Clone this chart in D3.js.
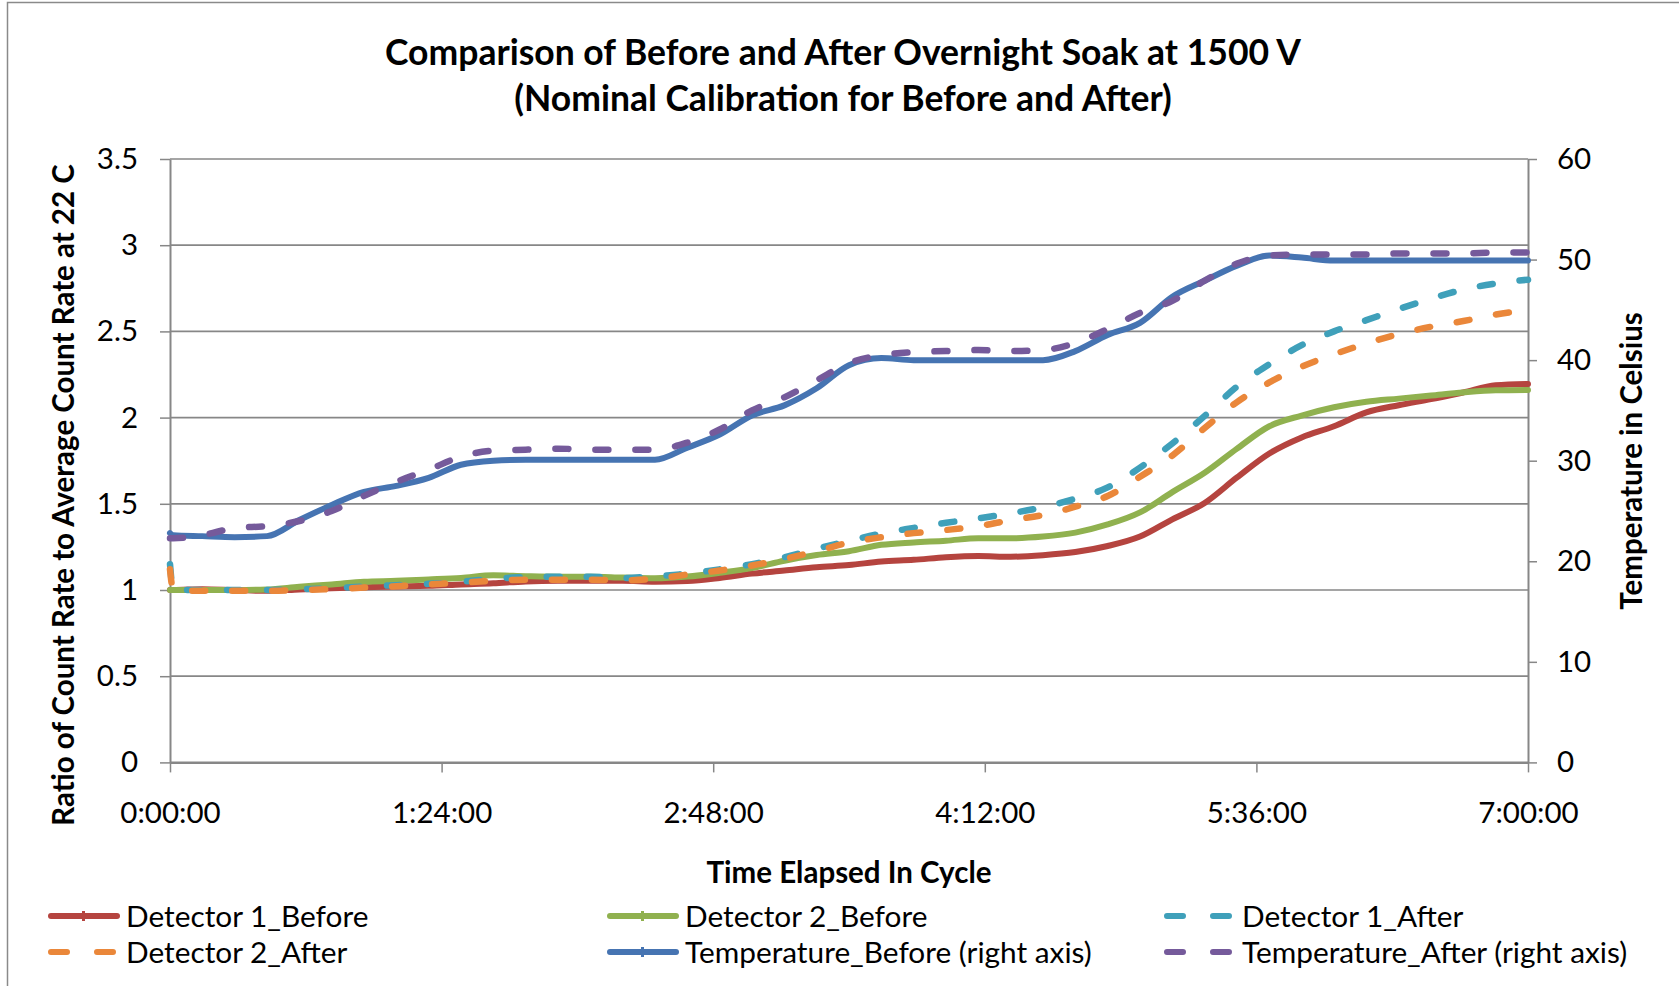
<!DOCTYPE html>
<html>
<head>
<meta charset="utf-8">
<script src="https://cdn.jsdelivr.net/npm/d3@7"></script>
<style>
  html, body { margin: 0; padding: 0; background: #fff; }
  svg { display: block; font-family: Lato, "Open Sans", sans-serif; }
</style>
</head>
<body>
<svg id="chart" width="1679" height="986"></svg>
<script>
// time in minutes since start of cycle
const minutes = [0, 1, 10, 20, 30, 40, 50, 60, 70, 80, 90, 100, 110, 120, 130, 140, 150,
  160, 170, 180, 190, 200, 210, 220, 230, 240, 250, 260, 270, 280, 290, 300, 310, 320,
  330, 340, 350, 360, 370, 380, 390, 400, 410, 420];

const detector1Before = [1.00, 1.00, 1.005, 1.00, 0.995, 1.003, 1.01, 1.016, 1.02, 1.024,
  1.032, 1.039, 1.05, 1.053, 1.053, 1.053, 1.048, 1.052, 1.07, 1.095, 1.113, 1.132, 1.145,
  1.165, 1.175, 1.19, 1.197, 1.193, 1.202, 1.22, 1.255, 1.31, 1.41, 1.505, 1.653, 1.792,
  1.885, 1.95, 2.03, 2.072, 2.107, 2.146, 2.187, 2.195];

const detector2Before = [1.00, 1.00, 1.00, 1.00, 1.003, 1.019, 1.032, 1.048, 1.053, 1.061,
  1.07, 1.085, 1.08, 1.077, 1.077, 1.072, 1.068, 1.078, 1.10, 1.127, 1.17, 1.203, 1.225,
  1.262, 1.276, 1.286, 1.30, 1.30, 1.31, 1.333, 1.38, 1.45, 1.568, 1.68, 1.82, 1.95, 2.012,
  2.06, 2.092, 2.11, 2.128, 2.146, 2.158, 2.16];

const detector1After = [1.15, 1.00, 1.00, 1.00, 1.00, 1.005, 1.01, 1.02, 1.028, 1.036,
  1.048, 1.065, 1.075, 1.077, 1.077, 1.07, 1.08, 1.095, 1.12, 1.15, 1.19, 1.24, 1.285,
  1.328, 1.36, 1.39, 1.415, 1.445, 1.48, 1.53, 1.595, 1.71, 1.85, 2.01, 2.18, 2.31, 2.42,
  2.50, 2.565, 2.63, 2.69, 2.743, 2.778, 2.80];

const detector2After = [1.12, 1.00, 0.995, 0.995, 0.995, 1.00, 1.005, 1.014, 1.022, 1.032,
  1.043, 1.053, 1.06, 1.06, 1.06, 1.056, 1.065, 1.09, 1.113, 1.142, 1.18, 1.225, 1.275,
  1.306, 1.33, 1.348, 1.37, 1.405, 1.435, 1.483, 1.545, 1.657, 1.78, 1.94, 2.09, 2.204,
  2.295, 2.367, 2.43, 2.484, 2.527, 2.56, 2.598, 2.624];

// degrees Celsius, right axis
const temperatureBefore = [22.8, 22.6, 22.5, 22.4, 22.5, 24.1, 25.6, 26.9, 27.5, 28.3,
  29.6, 30.0, 30.1, 30.1, 30.1, 30.1, 30.1, 31.3, 32.6, 34.5, 35.5, 37.2, 39.5, 40.2,
  40.0, 40.0, 40.0, 40.0, 40.0, 40.9, 42.5, 43.7, 46.3, 47.9, 49.4, 50.4, 50.2, 49.9,
  49.9, 49.9, 49.9, 49.9, 49.9, 49.9];

const temperatureAfter = [22.3, 22.3, 22.6, 23.3, 23.5, 24.0, 25.0, 26.5, 27.9, 29.1,
  30.4, 31.0, 31.1, 31.2, 31.1, 31.1, 31.1, 31.8, 33.1, 35.0, 36.3, 38.0, 39.7, 40.5,
  40.8, 40.9, 41.0, 40.9, 41.0, 41.7, 43.1, 44.7, 45.9, 47.9, 49.6, 50.4, 50.5, 50.5,
  50.5, 50.6, 50.6, 50.6, 50.7, 50.7];

const timeTicks = [0, 84, 168, 252, 336, 420];
const ratioTicks = [0, 0.5, 1, 1.5, 2, 2.5, 3, 3.5];
const tempTicks = [0, 10, 20, 30, 40, 50, 60];

const titleLines = ['Comparison of Before and After Overnight Soak at 1500 V',
  '(Nominal Calibration for Before and After)'];

const series = [
  { name: 'Detector 1_Before', values: detector1Before, axis: 'left', color: '#b5443f', dashed: false },
  { name: 'Detector 2_Before', values: detector2Before, axis: 'left', color: '#90b14f', dashed: false },
  { name: 'Detector 1_After', values: detector1After, axis: 'left', color: '#3fa0ba', dashed: true },
  { name: 'Detector 2_After', values: detector2After, axis: 'left', color: '#ea873a', dashed: true },
  { name: 'Temperature_Before (right axis)', values: temperatureBefore, axis: 'right', color: '#4674b2', dashed: false },
  { name: 'Temperature_After (right axis)', values: temperatureAfter, axis: 'right', color: '#755a9b', dashed: true },
];

const svg = d3.select('#chart');
const plot = { left: 170, right: 1528, top: 159, bottom: 762.4 };
const gridColor = '#878787';

svg.append('rect')
  .attr('width', 1679).attr('height', 986).attr('fill', '#fff');

// outer chart border (runs off the right and bottom edge)
svg.append('rect')
  .attr('x', 7.5).attr('y', 2.5).attr('width', 1700).attr('height', 1000)
  .attr('fill', 'none').attr('stroke', '#8a8a8a').attr('stroke-width', 1.5);

const x = d3.scaleLinear().domain([0, 420]).range([plot.left, plot.right]);
const yLeft = d3.scaleLinear().domain([0, 3.5]).range([plot.bottom, plot.top]);
const yRight = d3.scaleLinear().domain([0, 60]).range([plot.bottom, plot.top]);

// gridlines
svg.append('g')
  .selectAll('line')
  .data(ratioTicks)
  .join('line')
  .attr('x1', plot.left).attr('x2', plot.right)
  .attr('y1', d => yLeft(d)).attr('y2', d => yLeft(d))
  .attr('stroke', gridColor).attr('stroke-width', 1.7);

function timeFormat(m) {
  const h = Math.floor(m / 60);
  const mm = String(m % 60).padStart(2, '0');
  return `${h}:${mm}:00`;
}

function styleAxis(g) {
  g.select('.domain').attr('stroke', gridColor).attr('stroke-width', 2);
  g.selectAll('.tick line').attr('stroke', gridColor).attr('stroke-width', 1.5);
  g.selectAll('.tick text').attr('fill', '#000').style('font-size', '29.5px')
    .style('font-family', 'Lato, sans-serif');
}

svg.append('g')
  .attr('transform', `translate(0,${plot.bottom})`)
  .call(d3.axisBottom(x).tickValues(timeTicks).tickFormat(timeFormat).tickSize(10).tickSizeOuter(0))
  .call(styleAxis)
  .call(g => g.selectAll('.tick text').attr('y', 50).attr('dy', '0.36em'));

svg.append('g')
  .attr('transform', `translate(${plot.left},0)`)
  .call(d3.axisLeft(yLeft).tickValues(ratioTicks).tickFormat(d => String(d)).tickSize(10).tickPadding(22).tickSizeOuter(0))
  .call(styleAxis);

svg.append('g')
  .attr('transform', `translate(${plot.right},0)`)
  .call(d3.axisRight(yRight).tickValues(tempTicks).tickFormat(d => String(d)).tickSize(9).tickPadding(20).tickSizeOuter(0))
  .call(styleAxis);

// series lines
const lineFor = (s) => d3.line()
  .x((d, i) => x(minutes[i]))
  .y(d => (s.axis === 'left' ? yLeft(d) : yRight(d)))
  .curve(d3.curveMonotoneX);

svg.append('g')
  .selectAll('path')
  .data(series)
  .join('path')
  .attr('d', s => lineFor(s)(s.values))
  .attr('fill', 'none')
  .attr('stroke', s => s.color)
  .attr('stroke-width', s => (s.dashed ? 6.5 : 6))
  .attr('stroke-linejoin', 'round')
  .attr('stroke-linecap', 'round')
  .attr('stroke-dasharray', s => (s.dashed ? '13 27' : null));

// titles
svg.append('g')
  .selectAll('text')
  .data(titleLines)
  .join('text')
  .attr('x', 843).attr('y', (d, i) => 52 + i * 46).attr('dy', '0.36em')
  .attr('text-anchor', 'middle')
  .style('font-size', '35.5px').style('font-weight', 'bold')
  .text(d => d);

svg.append('text')
  .attr('x', 849).attr('y', 872).attr('dy', '0.36em')
  .attr('text-anchor', 'middle')
  .style('font-size', '29.5px').style('font-weight', 'bold')
  .text('Time Elapsed In Cycle');

svg.append('text')
  .attr('transform', 'translate(63,495) rotate(-90)')
  .attr('dy', '0.36em')
  .attr('text-anchor', 'middle')
  .style('font-size', '29.5px').style('font-weight', 'bold')
  .text('Ratio of Count Rate to Average Count Rate at 22 C');

svg.append('text')
  .attr('transform', 'translate(1631,461) rotate(-90)')
  .attr('dy', '0.36em')
  .attr('text-anchor', 'middle')
  .style('font-size', '29.5px').style('font-weight', 'bold')
  .text('Temperature in Celsius');

// legend
const legendCols = [48, 607, 1164];
const legendRows = [916, 952];
const legend = svg.append('g')
  .selectAll('g')
  .data(series)
  .join('g')
  .attr('transform', (s, i) => `translate(${legendCols[i % 3]},${legendRows[Math.floor(i / 3)]})`);

legend.append('line')
  .attr('x1', 3).attr('x2', 69).attr('y1', 0).attr('y2', 0)
  .attr('stroke', s => s.color)
  .attr('stroke-width', 6)
  .attr('stroke-linecap', 'round')
  .attr('stroke-dasharray', s => (s.dashed ? '16 30' : null));

legend.filter(s => !s.dashed)
  .append('rect')
  .attr('x', 34).attr('y', -5).attr('width', 3).attr('height', 10)
  .attr('fill', s => s.color);

legend.append('text')
  .attr('x', 78).attr('dy', '0.36em')
  .style('font-size', '29.8px')
  .text(s => s.name);
</script>
</body>
</html>
